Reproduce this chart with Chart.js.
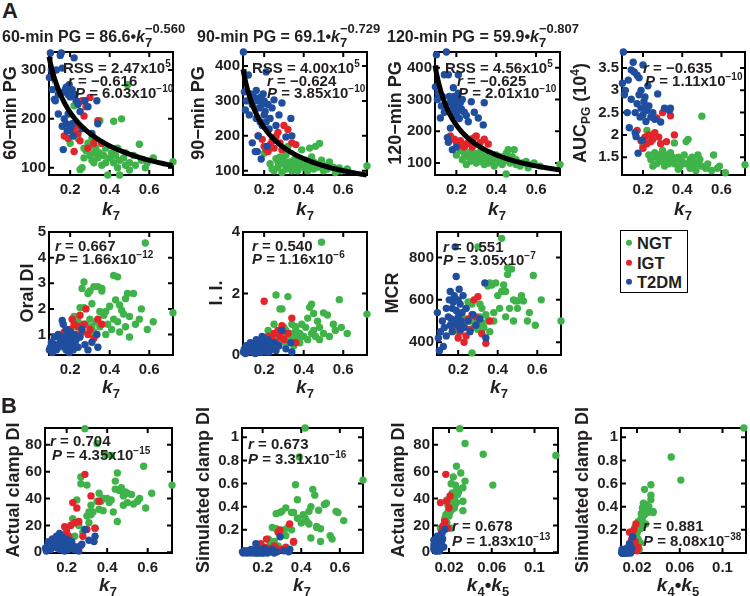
<!DOCTYPE html>
<html>
<head>
<meta charset="utf-8">
<script src="https://cdn.jsdelivr.net/npm/chart.js@4.4.1/dist/chart.umd.min.js"></script>
<style>
  body { margin: 0; width: 750px; height: 596px; overflow: hidden; position: relative; background: #fff;
         font-family: "Liberation Sans", Arial, sans-serif; font-weight: bold; color: #231f20; }
  canvas { position: absolute; }
  .t { position: absolute; white-space: nowrap; line-height: 1; transform: translateY(-50%); font-size: 15px; z-index: 2; }
  .ttl { position: absolute; white-space: nowrap; line-height: 1; transform: translateY(-50%); font-size: 16px; z-index: 2; }
  .yl { position: absolute; white-space: nowrap; line-height: 1; font-size: 18px; transform: translate(-50%, -50%) rotate(-90deg); z-index: 2; }
  .xl { position: absolute; white-space: nowrap; line-height: 1; font-size: 19px; transform: translate(-50%, -50%); z-index: 2; }
  .lab { position: absolute; font-size: 22px; line-height: 1; transform: translate(-50%, -50%); }
  sup { font-size: 10px; vertical-align: baseline; position: relative; top: -6px; }
  sub { font-size: 13px; vertical-align: baseline; position: relative; top: 5px; font-style: normal; }
  .yl sub { font-size: 12px; top: 4px; }
  .yl sup { font-size: 12px; top: -7px; }
  .st { display: inline-flex; flex-direction: column; align-items: flex-start; font-size: 13px; line-height: 1; vertical-align: middle; position: relative; top: -3px; }
  .st span:last-child { margin-top: 1px; }
  #legend { position: absolute; left: 620px; top: 230px; width: 66px; height: 61px; border: 1.5px solid #000; font-size: 16.5px; }
  #legend div { position: absolute; left: 16px; line-height: 1; transform: translateY(-50%); }
  #legend i { position: absolute; left: -11px; top: 50%; width: 6px; height: 6px; margin-top: -3px; border-radius: 50%; }
</style>
</head>
<body>
<script>
// ---- groups ----
const groupNames = ['NGT', 'IGT', 'T2DM'];
const groupColors = ['#3fb34a', '#e3242b', '#1f4e9f'];

// ---- k7 per subject ----
const k7NGT = [0.20,0.22,0.23,0.24,0.25,0.26,0.27,0.27,0.28,0.29,0.30,0.30,0.31,0.31,0.32,0.32,0.33,0.34,0.35,0.35,0.36,0.36,0.37,0.38,0.38,0.39,0.40,0.41,0.42,0.42,0.43,0.44,0.44,0.45,0.45,0.46,0.47,0.48,0.48,0.49,0.50,0.50,0.52,0.53,0.55,0.56,0.58,0.59,0.62,0.72];
const k7IGT = [0.17,0.19,0.20,0.21,0.22,0.23,0.24,0.25,0.26,0.27,0.28,0.29,0.30,0.32,0.34,0.36];
const k7T2DM = [0.095,0.10,0.105,0.11,0.12,0.125,0.13,0.14,0.14,0.15,0.155,0.16,0.16,0.165,0.17,0.17,0.175,0.18,0.18,0.185,0.19,0.19,0.195,0.20,0.20,0.205,0.21,0.21,0.215,0.22,0.225,0.23,0.24,0.25,0.26,0.275,0.29,0.31,0.335,0.34];

// ---- 60-min PG ----
const pg60NGT = [150,227,165,160,96,100,140,120,135,150,125,145,115,160,130,110,140,120,196,130,105,150,125,110,140,85,120,130,195,110,125,140,100,85,115,200,120,105,130,270,110,95,125,105,148,115,100,110,120,112];
const pg60IGT = [165,160,180,175,133,185,170,155,237,206,225,140,244,150,196,150];
const pg60T2DM = [285,335,300,260,240,237,300,210,250,330,335,304,185,137,255,200,260,190,265,175,250,210,270,180,245,255,190,260,165,325,250,237,230,215,180,237,225,170,237,190];

// ---- 90-min PG ----
const pg90NGT = [150,170,120,105,100,135,125,110,140,95,120,130,105,145,170,115,125,100,130,110,140,120,100,125,115,160,110,130,120,100,165,140,115,125,105,170,110,120,178,130,100,115,105,125,110,95,108,100,105,114];
const pg90IGT = [200,190,170,162,155,175,185,165,198,210,180,160,230,218,180,175];
const pg90T2DM = [440,326,274,300,374,260,320,180,290,310,155,330,250,155,300,200,280,240,310,134,290,230,320,260,300,270,383,240,170,290,220,250,280,303,230,260,294,197,250,200];

// ---- 120-min PG ----
const pg120NGT = [125,140,110,130,95,120,135,105,115,125,100,130,110,120,135,105,115,95,125,110,130,100,120,105,115,90,125,110,100,120,95,115,105,65,130,142,100,110,120,142,95,110,90,100,105,85,95,100,90,95];
const pg120IGT = [185,175,165,160,170,155,150,160,165,175,150,180,185,165,175,160];
const pg120T2DM = [340,441,300,320,242,280,310,378,260,450,180,378,165,310,210,290,300,142,270,337,250,310,280,150,300,260,378,320,240,290,270,300,260,250,230,293,260,242,220,290];

// ---- AUC PG (10^4) ----
const aucNGT = [1.75,2.1,1.55,1.45,1.3,1.6,1.5,1.35,1.55,1.45,1.65,1.4,1.5,1.3,1.55,1.45,1.35,1.6,1.5,1.4,1.82,1.35,1.45,1.23,1.5,1.3,1.4,1.55,1.85,1.35,1.9,1.45,1.25,1.5,1.3,1.4,1.2,1.55,1.35,1.45,2.42,1.3,1.25,1.35,1.2,1.55,1.25,1.3,1.15,1.33];
const aucIGT = [2.1,1.87,1.7,1.95,1.8,2.0,1.85,1.9,2.05,2.38,1.95,1.8,2.5,1.85,2.43,2.0];
const aucT2DM = [3.16,3.86,2.9,3.0,2.5,3.23,2.16,3.46,2.8,3.63,3.41,2.05,2.5,1.96,3.34,2.7,1.59,2.9,3.28,2.4,2.6,3.0,1.88,2.45,3.57,2.75,2.85,2.6,2.3,2.55,3.1,2.65,2.4,2.5,2.35,2.92,2.29,2.6,2.55,2.6];

// ---- Oral DI ----
const odiNGT = [1.2,1.7,1.3,1.5,2.05,2.8,3.05,2.05,1.4,2.6,2.7,1.6,1.3,2.2,1.1,2.87,1.5,2.87,1.9,1.3,2.8,2.7,1.75,1.0,1.9,1.4,2.1,1.2,3.3,1.6,2.35,3.25,1.5,1.1,2.15,1.95,1.8,2.4,1.3,2.6,0.9,1.7,2.6,1.4,1.6,2.0,4.57,1.2,1.5,1.85];
const odiIGT = [1.1,1.0,1.2,1.6,1.4,1.0,1.3,1.75,1.1,1.4,2.0,1.0,1.2,0.85,1.6,1.4];
const odiT2DM = [0.4,0.5,0.7,0.3,0.9,0.6,0.4,1.0,0.5,0.8,0.7,1.55,0.6,1.4,0.9,0.5,0.8,1.2,0.4,0.7,1.0,0.6,0.3,0.8,1.1,0.5,0.9,0.7,0.4,1.0,0.6,0.8,0.5,0.9,1.2,0.6,0.4,0.7,1.0,0.5];

// ---- I. I. ----
const iiNGT = [0.5,0.8,0.6,0.4,1.0,1.95,0.7,0.5,1.5,1.5,0.9,0.6,0.4,0.8,1.9,0.5,0.7,1.0,0.3,0.6,0.8,0.92,0.5,0.7,0.4,1.0,0.6,0.9,1.2,0.5,1.55,1.65,0.7,1.35,0.8,0.6,1.1,0.5,0.9,3.67,1.37,0.7,1.3,0.6,1.0,0.8,1.8,0.9,0.7,1.33];
const iiIGT = [0.3,0.5,1.75,0.4,0.6,0.3,0.5,0.7,0.4,0.8,0.6,0.95,0.5,0.7,1.2,0.4];
const iiT2DM = [0.1,0.2,0.05,0.3,0.15,0.1,0.4,0.2,0.1,0.3,0.05,0.2,0.5,0.1,0.3,0.15,0.2,0.4,0.1,0.25,0.6,0.1,0.3,0.2,0.15,0.4,0.1,0.3,0.2,0.5,0.1,0.3,0.2,0.4,0.15,0.3,0.8,0.2,0.4,0.1];

// ---- MCR ----
const mcrNGT = [450,520,480,560,590,500,350,580,470,510,850,460,580,520,490,560,470,530,665,500,680,450,670,540,500,680,620,560,890,640,670,640,520,750,720,560,745,600,500,595,560,595,620,595,500,540,715,480,600,500];
const mcrIGT = [470,500,420,450,480,400,430,510,460,530,600,520,615,440,395,500];
const mcrT2DM = [540,420,360,450,500,380,470,560,430,520,600,480,640,510,560,450,590,620,500,850,710,550,480,600,520,650,460,580,500,540,620,470,560,500,450,530,480,510,680,420];

// ---- clamp DI (actual / simulated) and k4*k5 ----
const actDiNGT = [18,8,25,12,39,20,56,51,15,92,50,27,22,30,35,28,30,18,81,38,44,32,38,31,40,73,40,37,72,39,30,47,53,59,23,46,48,35,42,45,44,37,43,36,38,40,64,33,44,50];
const actDiIGT = [8,19,15,12,20,37,22,33,23,5,12,58,17,42,18,38];
const actDiT2DM = [3,1,5,8,2,6,10,4,7,12,3,9,5,14,2,7,4,11,6,3,8,1,10,5,7,2,9,4,6,3,8,5,2,4,1,6,17,9,8,12];
const simDiNGT = [0.05,0.03,0.12,0.08,0.22,0.10,0.34,0.21,0.06,0.35,0.36,0.17,0.19,0.20,0.39,0.15,0.22,0.03,0.35,0.20,0.35,0.09,0.59,0.46,0.30,0.83,0.26,0.33,1.08,0.30,0.27,0.25,0.36,0.40,0.13,0.55,0.50,0.22,0.23,0.37,0.21,0.10,0.42,0.43,0.15,0.12,0.36,0.35,0.28,0.63];
const simDiIGT = [0.03,0.08,0.02,0.05,0.12,0.04,0.03,0.02,0.06,0.04,0.18,0.2,0.03,0.05,0.25,0.1];
const simDiT2DM = [0.01,0.0,0.02,0.01,0.0,0.02,0.01,0.03,0.0,0.01,0.02,0.0,0.01,0.08,0.0,0.01,0.02,0.01,0.0,0.02,0.01,0.03,0.0,0.01,0.02,0.0,0.01,0.04,0.02,0.01,0.0,0.02,0.01,0.03,0.0,0.01,0.14,0.02,0.01,0.03];
const k45NGT = [0.012,0.010,0.016,0.013,0.018,0.015,0.024,0.022,0.014,0.030,0.026,0.020,0.018,0.019,0.025,0.017,0.020,0.022,0.035,0.021,0.026,0.023,0.033,0.033,0.024,0.052,0.022,0.027,0.120,0.025,0.021,0.028,0.035,0.031,0.016,0.027,0.033,0.019,0.024,0.029,0.023,0.020,0.028,0.026,0.018,0.021,0.027,0.025,0.023,0.061];
const k45IGT = [0.011,0.014,0.013,0.012,0.015,0.012,0.016,0.020,0.016,0.010,0.013,0.017,0.014,0.021,0.019,0.018];
const k45T2DM = [0.006,0.008,0.007,0.009,0.006,0.010,0.008,0.011,0.007,0.012,0.009,0.006,0.010,0.013,0.008,0.007,0.011,0.009,0.006,0.012,0.010,0.008,0.014,0.007,0.009,0.011,0.006,0.015,0.008,0.010,0.007,0.012,0.009,0.006,0.011,0.008,0.016,0.010,0.013,0.009];

// ---- power-law fits PG = a * k7^b ----
const fitA = [86.6, 69.1, 59.9];
const fitB = [-0.560, -0.729, -0.807];

// ---- axis ranges & ticks ----
const k7Range = [0.093, 0.72], k7Ticks = [0.2, 0.4, 0.6];
const k45Range = [0.005, 0.122], k45Ticks = [0.02, 0.06, 0.1];
const pg60Ticks = [100, 200, 300], pg90Ticks = [100, 200, 300, 400], pg120Ticks = [100, 200, 300, 400];
const aucTicks = [1.5, 2, 2.5, 3, 3.5], odiTicks = [1, 2, 3, 4, 5], iiTicks = [0, 2, 4];
const mcrTicks = [400, 600, 800], actTicks = [0, 20, 40, 60, 80], simTicks = [0.2, 0.4, 0.6, 0.8, 1];

const INK = '#231f20';
const PADL = 45, PADR = 12, PADT = 12, PADB = 30;
const tickFont = { family: 'Liberation Sans', size: 15, weight: 'bold' };

const frame = {
  id: 'frame',
  beforeDatasetsDraw(c) {
    const { ctx, chartArea: a, scales: { x, y } } = c;
    ctx.save();
    ctx.strokeStyle = '#000';
    ctx.lineWidth = 2;
    ctx.strokeRect(a.left, a.top, a.right - a.left, a.bottom - a.top);
    ctx.beginPath();
    x.ticks.forEach(t => {
      const p = x.getPixelForValue(t.value);
      ctx.moveTo(p, a.bottom); ctx.lineTo(p, a.bottom - 5);
      ctx.moveTo(p, a.top); ctx.lineTo(p, a.top + 5);
    });
    y.ticks.forEach(t => {
      const p = y.getPixelForValue(t.value);
      ctx.moveTo(a.left, p); ctx.lineTo(a.left + 5, p);
      ctx.moveTo(a.right, p); ctx.lineTo(a.right - 5, p);
    });
    ctx.stroke();
    ctx.restore();
  }
};

function pts(xs, ys) { return xs.map((v, i) => ({ x: v, y: ys[i] })); }

function axis(range, ticks, isX, pad) {
  return {
    type: 'linear', min: range[0], max: range[1], bounds: 'data',
    afterBuildTicks: s => { s.ticks = ticks.map(v => ({ value: v })); },
    afterFit: s => { if (isX) s.height = PADB; else s.width = PADL; },
    grid: { display: false, drawTicks: false },
    border: { display: false },
    ticks: { font: tickFont, color: INK, padding: pad, autoSkip: false, maxRotation: 0, callback: v => String(v) }
  };
}

function panel(box, xs, ys, xr, xt, yr, yt, fit) {
  const [l, t, r, b] = box;
  const cv = document.createElement('canvas');
  cv.width = r - l + PADL + PADR;
  cv.height = b - t + PADT + PADB;
  cv.style.left = (l - PADL) + 'px';
  cv.style.top = (t - PADT) + 'px';
  document.body.appendChild(cv);

  const datasets = [];
  if (fit !== undefined) {
    const curve = [];
    for (let k = xr[0]; k <= xr[1] + 1e-9; k += 0.005) curve.push({ x: k, y: fitA[fit] * Math.pow(k, fitB[fit]) });
    datasets.push({ data: curve, showLine: true, borderColor: '#000', borderWidth: 5, pointRadius: 0, order: 0, clip: false });
  }
  [0, 1, 2].forEach(g => datasets.push({
    label: groupNames[g], data: pts(xs[g], ys[g]), backgroundColor: groupColors[g],
    borderWidth: 0, pointRadius: 3.7, order: 3 - g, clip: false
  }));

  new Chart(cv, {
    type: 'scatter',
    data: { datasets },
    options: {
      responsive: false, animation: false, events: [],
      layout: { padding: { top: PADT, right: PADR, left: 0, bottom: 0 } },
      plugins: { legend: { display: false }, tooltip: { enabled: false } },
      scales: { x: axis(xr, xt, true, 6), y: axis(yr, yt, false, 3) }
    },
    plugins: [frame]
  });
}

const K7 = [k7NGT, k7IGT, k7T2DM];
const K45 = [k45NGT, k45IGT, k45T2DM];

panel([49, 52, 173, 175], K7, [pg60NGT, pg60IGT, pg60T2DM], k7Range, k7Ticks, [85, 337], pg60Ticks, 0);
panel([243, 52, 367, 175], K7, [pg90NGT, pg90IGT, pg90T2DM], k7Range, k7Ticks, [88, 440], pg90Ticks, 1);
panel([435, 52, 560, 175], K7, [pg120NGT, pg120IGT, pg120T2DM], k7Range, k7Ticks, [62, 450], pg120Ticks, 2);
panel([622, 52, 745, 175], K7, [aucNGT, aucIGT, aucT2DM], k7Range, k7Ticks, [1.1, 3.86], aucTicks);
panel([49, 232, 173, 355], K7, [odiNGT, odiIGT, odiT2DM], k7Range, k7Ticks, [0.2, 5], odiTicks);
panel([243, 232, 367, 355], K7, [iiNGT, iiIGT, iiT2DM], k7Range, k7Ticks, [0, 4], iiTicks);
panel([437, 232, 561, 355], K7, [mcrNGT, mcrIGT, mcrT2DM], k7Range, k7Ticks, [340, 920], mcrTicks);
panel([45, 428, 172, 553], K7, [actDiNGT, actDiIGT, actDiT2DM], k7Range, k7Ticks, [-0.5, 92.5], actTicks);
panel([242, 428, 363, 553], K7, [simDiNGT, simDiIGT, simDiT2DM], k7Range, k7Ticks, [0, 1.08], simTicks);
panel([433, 428, 558, 553], K45, [actDiNGT, actDiIGT, actDiT2DM], k45Range, k45Ticks, [-0.5, 92.5], actTicks);
panel([621, 428, 746, 553], K45, [simDiNGT, simDiIGT, simDiT2DM], k45Range, k45Ticks, [0, 1.08], simTicks);

// ---- text ----
function txt(cls, x, y, html) {
  const d = document.createElement('div');
  d.className = cls;
  d.style.left = x + 'px';
  d.style.top = y + 'px';
  d.innerHTML = html;
  document.body.appendChild(d);
}
const k7 = '<i>k</i><sub>7</sub>';
const k45 = '<i>k</i><sub>4</sub>•<i>k</i><sub>5</sub>';
const pw = e => '<i>k</i><span class="st"><span>' + e + '</span><span>7</span></span>';

txt('lab', 10, 11, 'A');
txt('lab', 9, 406, 'B');

txt('ttl', 2, 38, '60-min PG = 86.6•' + pw('−0.560'));
txt('ttl', 197, 38, '90-min PG = 69.1•' + pw('−0.729'));
txt('ttl', 387, 38, '120-min PG = 59.9•' + pw('−0.807'));

[[10, 113, '60−min PG'], [198, 113, '90−min PG'], [395, 113, '120−min PG'], [580, 113, 'AUC<sub>PG</sub> (10<sup>4</sup>)'],
 [27, 293, 'Oral DI'], [216, 293, 'I. I.'], [392, 293, 'MCR'],
 [13, 490, 'Actual clamp DI'], [203, 490, 'Simulated clamp DI'], [398, 490, 'Actual clamp DI'], [582, 490, 'Simulated clamp DI']
].forEach(a => txt('yl', a[0], a[1], a[2]));

[[111, 208, k7], [305, 208, k7], [497, 208, k7], [683, 208, k7],
 [111, 386, k7], [305, 386, k7], [499, 386, k7],
 [108, 584, k7], [302, 584, k7], [488, 584, k45], [678, 584, k45]
].forEach(a => txt('xl', a[0], a[1], a[2]));

[[63, 67, 'RSS = 2.47x10<sup>5</sup>'], [68, 80, '<i>r</i> = −0.616'], [75, 92, '<i>P</i> = 6.03x10<sup>−10</sup>'],
 [252, 67, 'RSS = 4.00x10<sup>5</sup>'], [267, 80, '<i>r</i> = −0.624'], [267, 92, '<i>P</i> = 3.85x10<sup>−10</sup>'],
 [445, 67, 'RSS = 4.56x10<sup>5</sup>'], [457, 80, '<i>r</i> = −0.625'], [458, 92, '<i>P</i> = 2.01x10<sup>−10</sup>'],
 [643, 67, '<i>r</i> = −0.635'], [645, 80, '<i>P</i> = 1.11x10<sup>−10</sup>'],
 [55, 245, '<i>r</i> = 0.667'], [55, 258, '<i>P</i> = 1.66x10<sup>−12</sup>'],
 [252, 245, '<i>r</i> = 0.540'], [252, 258, '<i>P</i> = 1.16x10<sup>−6</sup>'],
 [443, 246, '<i>r</i> = 0.551'], [443, 259, '<i>P</i> = 3.05x10<sup>−7</sup>'],
 [50, 440, '<i>r</i> = 0.704'], [52, 454, '<i>P</i> = 4.35x10<sup>−15</sup>'],
 [248, 443, '<i>r</i> = 0.673'], [248, 458, '<i>P</i> = 3.31x10<sup>−16</sup>'],
 [452, 525, '<i>r</i> = 0.678'], [452, 540, '<i>P</i> = 1.83x10<sup>−13</sup>'],
 [643, 525, '<i>r</i> = 0.881'], [643, 540, '<i>P</i> = 8.08x10<sup>−38</sup>']
].forEach(a => txt('t', a[0], a[1], a[2]));

// ---- legend ----
const lg = document.createElement('div');
lg.id = 'legend';
lg.innerHTML = groupNames.map((n, i) =>
  '<div style="top:' + (12 + i * 19.5) + 'px"><i style="background:' + groupColors[i] + '"></i>' + n + '</div>').join('');
document.body.appendChild(lg);
</script>
</body>
</html>
